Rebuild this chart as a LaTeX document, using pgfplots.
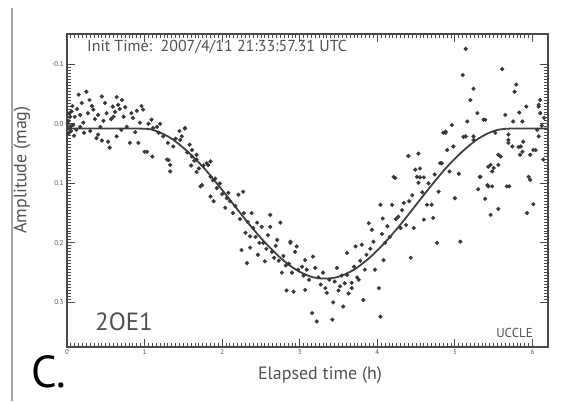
\documentclass[border=0pt]{standalone}
\usepackage{fontspec}
\setmainfont{PT Sans}
\usepackage{pgfplots}
\pgfplotsset{compat=1.18}
\definecolor{framegray}{HTML}{4A4A4A}
\definecolor{textgray}{HTML}{505050}
\definecolor{dotgray}{HTML}{383838}

\begin{document}
\begin{tikzpicture}[x=1bp,y=1bp]
\path[use as bounding box] (-67,-54) rectangle (501,347);
% left border line
\draw[gray!70,line width=2bp] (-55,339) -- (-55,-54);

\begin{axis}[
  at={(0,0)}, anchor=south west,
  scale only axis, width=481bp, height=313bp,
  xmin=0, xmax=6.2, ymin=-0.151, ymax=0.375,
  y dir=reverse,
  axis line style={framegray,line width=1.5bp},
  every tick/.style={framegray,line width=0.9bp},
  major tick length=8bp, minor tick length=4bp,
  xtick={0,1,2,3,4,5,6}, xticklabels={0,1,2,3,4,5,6},
  ytick={-0.1,0,0.1,0.2,0.3}, yticklabels={-0.1,0.0,0.1,0.2,0.3},
  minor x tick num=19, minor y tick num=19,
  /pgf/number format/assume math mode=true,
  tick label style={font=\fontsize{7}{8}\selectfont, text=textgray},
  xticklabel style={yshift=1bp},
  xtick pos=both, ytick pos=both,
  clip=false,
]
% fitted light curve
\addplot[black!75,line width=1.8bp,smooth] coordinates {
(0,0.008)(0.95,0.008)(1.15,0.012)(1.35,0.025)(1.55,0.046)(1.75,0.072)(1.95,0.103)
(2.15,0.136)(2.35,0.169)(2.55,0.199)(2.75,0.225)(2.95,0.245)(3.15,0.257)(3.325,0.260)
(3.5,0.257)(3.7,0.245)(3.9,0.225)(4.1,0.199)(4.3,0.169)(4.5,0.136)(4.7,0.103)
(4.9,0.072)(5.1,0.046)(5.3,0.025)(5.5,0.012)(5.7,0.008)(6.2,0.008)};

% measurements
\addplot[only marks,mark=*,mark size=1.9bp,dotgray,mark options={draw=dotgray,fill=dotgray}] coordinates {
(0.02,-0.005)(0.03,0.008)(0.04,-0.012)(0.05,0.012)(0.06,-0.021)(0.08,0.002)(0.1,-0.012)(0.12,0.01)
(0.15,-0.049)(0.17,-0.015)(0.17,0.005)(0.21,-0.002)(0.25,-0.054)(0.27,-0.018)(0.3,0.012)(0.32,-0.030)
(0.34,-0.024)(0.38,0.024)(0.4,-0.015)(0.4,0.018)(0.45,-0.046)(0.47,-0.005)(0.51,-0.018)(0.53,0.03)
(0.55,0.04)(0.57,-0.008)(0.59,-0.029)(0.6,-0.012)(0.62,-0.02)(0.64,0.021)(0.66,-0.032)(0.68,-0.025)
(0.71,-0.04)(0.73,-0.012)(0.77,0.005)(0.81,0.032)(0.83,-0.018)(0.85,-0.01)(0.88,0.014)(0.92,0.032)
(0.94,-0.002)(0.96,-0.03)(0.98,-0.024)(1.0,0.047)
(0.01,0.0)(0.02,0.016)(0.03,-0.018)(0.05,0.004)(0.07,-0.03)(0.09,0.02)(0.13,-0.025)(0.19,-0.035)
(0.22,0.015)(0.29,-0.04)(0.36,-0.008)(0.43,0.005)(0.49,-0.035)(0.64,-0.045)(0.7,0.01)(0.75,-0.028)
(0.9,-0.022)(0.45,0.028)
(1.03,0.047)(1.05,0.0)(1.09,-0.007)(1.1,0.055)(1.11,0.007)(1.16,0.005)(1.18,0.015)(1.2,0.0)
(1.24,0.021)(1.29,0.06)(1.3,0.032)(1.31,0.061)(1.33,0.08)(1.33,0.069)(1.37,0.038)(1.4,0.025)
(1.45,0.012)(1.46,0.027)(1.48,0.021)(1.52,0.008)(1.52,0.007)(1.55,0.048)(1.58,0.035)(1.6,0.07)
(1.61,0.044)(1.61,0.055)(1.64,0.062)(1.67,0.052)(1.67,0.081)(1.67,0.06)(1.7,0.075)(1.72,0.105)
(1.74,0.103)(1.76,0.07)(1.8,0.066)(1.82,0.069)(1.85,0.063)(1.85,0.089)(1.85,0.122)(1.88,0.095)
(1.89,0.13)(1.91,0.092)(1.93,0.108)(1.97,0.1)
(2.0,0.118)(2.04,0.141)(2.06,0.125)(2.08,0.116)(2.1,0.13)(2.14,0.15)(2.17,0.138)(2.21,0.119)
(2.23,0.16)(2.25,0.212)(2.27,0.114)(2.28,0.15)(2.3,0.183)(2.32,0.234)(2.33,0.165)(2.36,0.189)
(2.36,0.208)(2.38,0.15)(2.4,0.175)(2.43,0.19)(2.45,0.166)(2.46,0.22)(2.48,0.2)(2.51,0.173)
(2.53,0.2)(2.55,0.231)(2.57,0.21)(2.59,0.187)(2.62,0.153)(2.62,0.173)(2.64,0.215)(2.67,0.225)
(2.69,0.205)(2.71,0.195)(2.73,0.23)(2.75,0.166)(2.77,0.25)(2.79,0.222)(2.82,0.238)(2.83,0.28)
(2.86,0.235)(2.88,0.2)(2.88,0.198)(2.9,0.25)(2.92,0.282)(2.94,0.215)(2.96,0.206)(2.98,0.245)
(3.03,0.24)(3.05,0.255)(3.07,0.229)(3.07,0.279)(3.09,0.245)(3.12,0.262)(3.16,0.318)(3.17,0.223)
(3.2,0.242)(3.22,0.332)(3.24,0.258)(3.27,0.27)(3.3,0.25)(3.33,0.276)(3.35,0.284)(3.38,0.262)
(3.42,0.329)(3.43,0.3)(3.45,0.265)(3.48,0.242)(3.5,0.28)(3.52,0.273)(3.54,0.255)(3.56,0.307)
(3.58,0.268)(3.61,0.254)(3.61,0.217)(3.63,0.285)(3.67,0.267)(3.67,0.276)(3.7,0.24)(3.72,0.206)
(3.74,0.258)(3.76,0.262)(3.78,0.23)(3.8,0.203)(3.82,0.296)(3.84,0.245)(3.86,0.22)(3.89,0.167)
(3.91,0.21)(3.93,0.178)(3.95,0.198)(3.97,0.245)
(4.02,0.276)(4.04,0.324)(4.04,0.136)(4.06,0.185)(4.07,0.159)(4.08,0.229)(4.1,0.2)(4.13,0.172)
(4.16,0.19)(4.19,0.136)(4.21,0.089)(4.23,0.091)(4.24,0.16)(4.27,0.156)(4.3,0.175)(4.32,0.145)
(4.34,0.133)(4.37,0.17)(4.4,0.054)(4.41,0.13)(4.43,0.225)(4.45,0.12)(4.47,0.175)(4.49,0.077)
(4.51,0.089)(4.53,0.05)(4.53,0.099)(4.55,0.075)(4.55,0.09)(4.58,0.115)(4.6,0.161)(4.6,0.09)
(4.64,0.136)(4.66,0.1)(4.7,0.136)(4.72,0.158)(4.74,0.085)(4.77,0.2)(4.79,0.114)(4.81,0.066)
(4.83,0.066)(4.85,0.015)(4.88,0.013)(4.88,0.015)(4.9,0.044)(4.93,0.08)(4.96,0.002)(4.98,0.038)
(5.0,0.125)(5.05,0.084)(5.07,0.198)(5.1,-0.082)(5.11,0.022)(5.14,-0.126)(5.14,0.021)(5.16,-0.004)
(5.2,-0.04)(5.24,-0.059)(5.24,0.027)(5.24,0.021)(5.29,-0.018)(5.3,0.11)(5.32,0.089)(5.33,0.089)
(5.37,-0.007)(5.39,0.126)(5.39,-0.007)(5.42,0.103)(5.43,0.072)(5.43,0.105)(5.46,0.069)(5.46,0.153)
(5.48,0.08)(5.48,0.105)(5.5,0.074)(5.52,0.015)(5.56,0.069)(5.56,0.052)(5.56,0.143)(5.59,0.055)
(5.61,-0.092)(5.65,-0.015)(5.67,0.105)(5.69,0.018)(5.69,0.032)(5.69,0.027)(5.7,0.105)(5.74,0.038)
(5.75,-0.004)(5.77,-0.054)(5.79,-0.066)(5.82,0.039)(5.83,-0.019)(5.84,0.052)(5.85,0.038)(5.87,-0.004)
(5.87,0.047)(5.88,0.03)(5.92,-0.029)(5.93,0.15)(5.95,0.089)(5.97,0.094)(5.97,0.052)(6.01,0.135)
(6.01,0.044)(6.04,0.044)(6.06,0.01)(6.08,-0.032)(6.08,0.021)(6.08,-0.029)(6.1,-0.04)(6.1,-0.018)
(6.12,0.003)(6.14,0.06)(6.15,-0.01)};
\end{axis}

% texts inside and around the frame
\node[anchor=west,text=textgray,font=\fontsize{16}{18}\selectfont,inner sep=0pt] at (20,300) {Init Time:\ \ 2007/4/11 21:33:57.31 UTC};
\node[anchor=base west,text=textgray,font=\fontsize{25}{28}\selectfont,inner sep=0pt] at (28,17) {2OE1};
\node[anchor=base east,text=textgray,font=\fontsize{13}{15}\selectfont,inner sep=0pt] at (466,10) {UCCLE};
\node[text=textgray,font=\fontsize{18}{20}\selectfont,inner sep=0pt] at (253,-28) {Elapsed time (h)};
\node[rotate=90,text=textgray,font=\fontsize{18}{20}\selectfont,inner sep=0pt] at (-45,177) {Amplitude (mag)};
\node[anchor=base west,text=black,font=\fontsize{45}{48}\selectfont,inner sep=0pt] at (-36,-40) {C.};
\end{tikzpicture}
\end{document}
